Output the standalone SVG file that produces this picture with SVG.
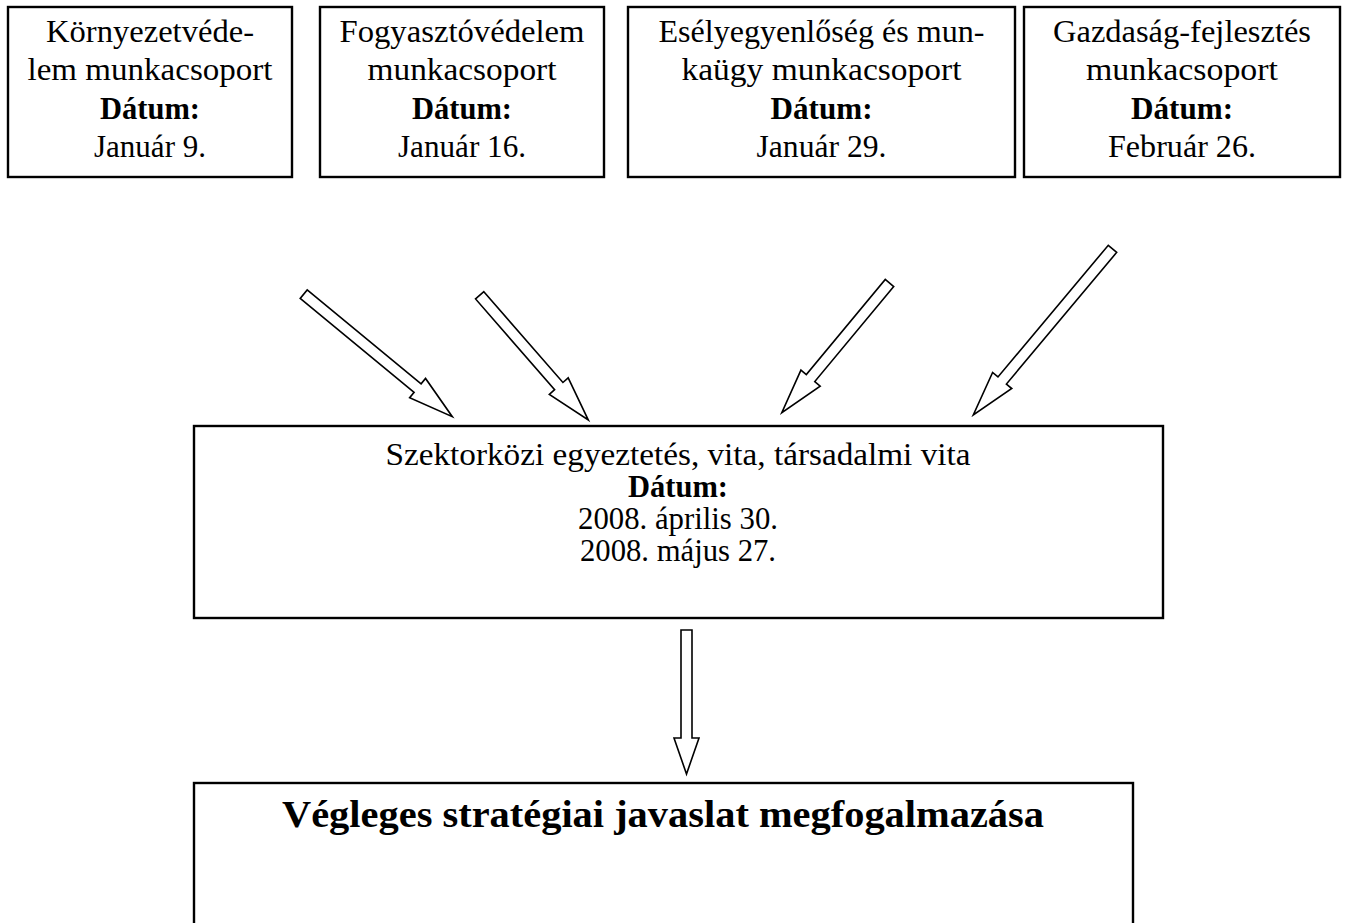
<svg xmlns="http://www.w3.org/2000/svg" width="1346" height="923" viewBox="0 0 1346 923">
<style>
.box{fill:#fff;stroke:#000;stroke-width:2.4}
.arr{fill:#fff;stroke:#000;stroke-width:1.6;stroke-linejoin:miter}
text{font-family:"Liberation Serif","Times New Roman",serif;font-size:31px;fill:#000;text-anchor:middle}
.b{font-weight:bold}
.title{font-weight:bold;font-size:38px}
</style>
<rect width="1346" height="923" fill="#fff"/>
<g id="node-kornyezet">
<rect class="box" x="8" y="7" width="284" height="170"/>
<text x="150" y="42" textLength="208" lengthAdjust="spacingAndGlyphs">Környezetvéde-</text>
<text x="150" y="80" textLength="245" lengthAdjust="spacingAndGlyphs">lem munkacsoport</text>
<text class="b" x="150" y="119" textLength="100" lengthAdjust="spacingAndGlyphs">Dátum:</text>
<text x="150" y="157" textLength="112" lengthAdjust="spacingAndGlyphs">Január 9.</text>
</g>
<g id="node-fogyaszto">
<rect class="box" x="320" y="7" width="284" height="170"/>
<text x="462" y="42" textLength="245" lengthAdjust="spacingAndGlyphs">Fogyasztóvédelem</text>
<text x="462" y="80" textLength="189" lengthAdjust="spacingAndGlyphs">munkacsoport</text>
<text class="b" x="462" y="119" textLength="100" lengthAdjust="spacingAndGlyphs">Dátum:</text>
<text x="462" y="157" textLength="128" lengthAdjust="spacingAndGlyphs">Január 16.</text>
</g>
<g id="node-esely">
<rect class="box" x="628" y="7" width="387" height="170"/>
<text x="821.5" y="42" textLength="326" lengthAdjust="spacingAndGlyphs">Esélyegyenlőség és mun-</text>
<text x="821.5" y="80" textLength="280" lengthAdjust="spacingAndGlyphs">kaügy munkacsoport</text>
<text class="b" x="821.5" y="119" textLength="102" lengthAdjust="spacingAndGlyphs">Dátum:</text>
<text x="821.5" y="157" textLength="130" lengthAdjust="spacingAndGlyphs">Január 29.</text>
</g>
<g id="node-gazdasag">
<rect class="box" x="1024" y="7" width="316" height="170"/>
<text x="1182" y="42" textLength="258" lengthAdjust="spacingAndGlyphs">Gazdaság-fejlesztés</text>
<text x="1182" y="80" textLength="192" lengthAdjust="spacingAndGlyphs">munkacsoport</text>
<text class="b" x="1182" y="119" textLength="102" lengthAdjust="spacingAndGlyphs">Dátum:</text>
<text x="1182" y="157" textLength="148" lengthAdjust="spacingAndGlyphs">Február 26.</text>
</g>
<g id="node-szektorkozi">
<rect class="box" x="194" y="426" width="969" height="192"/>
<text x="678" y="465" textLength="585" lengthAdjust="spacingAndGlyphs">Szektorközi egyeztetés, vita, társadalmi vita</text>
<text class="b" x="678" y="497" textLength="100" lengthAdjust="spacingAndGlyphs">Dátum:</text>
<text x="678" y="529" textLength="200" lengthAdjust="spacingAndGlyphs">2008. április 30.</text>
<text x="678" y="561" textLength="196" lengthAdjust="spacingAndGlyphs">2008. május 27.</text>
</g>
<g id="node-vegleges">
<rect class="box" x="194" y="783" width="939" height="160"/>
<text class="title" x="663" y="827" textLength="762" lengthAdjust="spacingAndGlyphs">Végleges stratégiai javaslat megfogalmazása</text>
</g>
<g id="connectors">
<polygon class="arr" transform="translate(303.7,294.2) rotate(39.5)" points="0,-5.5 147.6,-5.5 147.6,-12.5 192.6,0 147.6,12.5 147.6,5.5 0,5.5"/>
<polygon class="arr" transform="translate(479.7,295.3) rotate(48.95)" points="0,-5.5 120.4,-5.5 120.4,-12.5 165.4,0 120.4,12.5 120.4,5.5 0,5.5"/>
<polygon class="arr" transform="translate(889.5,283) rotate(129.7)" points="0,-5.5 123.6,-5.5 123.6,-12.5 168.6,0 123.6,12.5 123.6,5.5 0,5.5"/>
<polygon class="arr" transform="translate(1112.5,248.8) rotate(129.95)" points="0,-5.5 171.8,-5.5 171.8,-12.5 216.8,0 171.8,12.5 171.8,5.5 0,5.5"/>
<polygon class="arr" points="681,630 692,630 692,738 699,738 686.5,774 674,738 681,738"/>
</g>
</svg>
